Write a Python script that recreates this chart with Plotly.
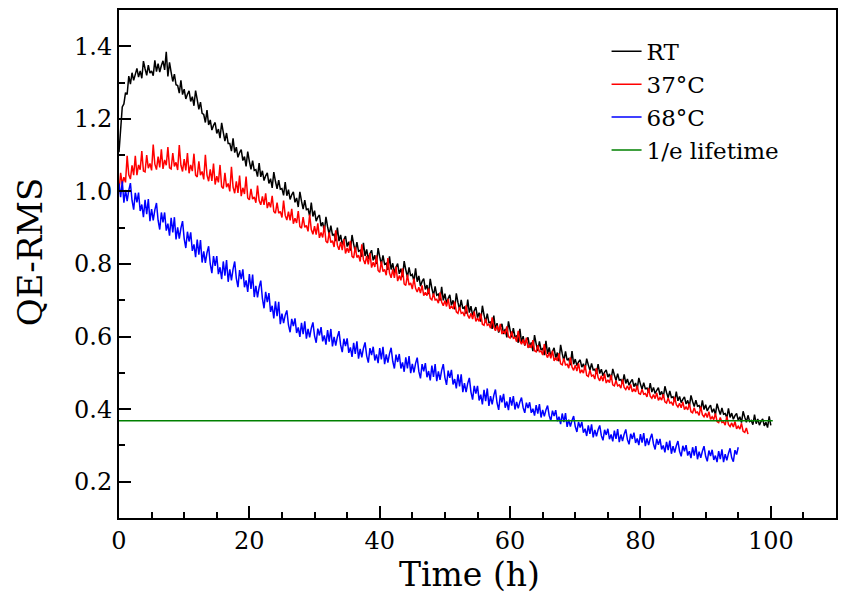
import plotly.graph_objects as go

t_step = 0.25  # sampling interval of the recorded data (h)

rt_values = [
1.108,1.160,1.233,1.241, 1.272,1.267,1.318,1.296, 1.327,1.306,1.324,1.339, 1.315,1.332,1.312,1.359,
1.338,1.320,1.348,1.326, 1.332,1.319,1.361,1.330, 1.352,1.329,1.347,1.360, 1.335,1.385,1.317,1.356,
1.328,1.303,1.323,1.294, 1.292,1.271,1.306,1.267, 1.282,1.255,1.268,1.277, 1.248,1.261,1.236,1.278,
1.253,1.226,1.246,1.215, 1.212,1.190,1.224,1.183, 1.197,1.169,1.182,1.190, 1.160,1.172,1.147,1.189,
1.163,1.139,1.161,1.132, 1.132,1.111,1.146,1.107, 1.122,1.094,1.107,1.115, 1.085,1.096,1.069,1.110,
1.083,1.061,1.085,1.058, 1.060,1.041,1.078,1.040, 1.057,1.030,1.043,1.051, 1.022,1.035,1.010,1.053,
1.028,1.007,1.031,1.006, 1.008,0.989,1.026,0.988, 1.005,0.978,0.991,0.999, 0.970,0.982,0.957,0.999,
0.973,0.951,0.976,0.950, 0.952,0.932,0.969,0.931, 0.947,0.918,0.929,0.935, 0.904,0.915,0.889,0.930,
0.903,0.881,0.906,0.880, 0.882,0.863,0.900,0.863, 0.880,0.854,0.867,0.877, 0.848,0.861,0.837,0.880,
0.855,0.834,0.860,0.835, 0.838,0.820,0.858,0.822, 0.840,0.814,0.828,0.838, 0.810,0.824,0.800,0.844,
0.820,0.799,0.824,0.799, 0.802,0.784,0.821,0.785, 0.802,0.776,0.791,0.801, 0.773,0.787,0.764,0.808,
0.784,0.764,0.791,0.767, 0.771,0.752,0.788,0.751, 0.767,0.739,0.752,0.760, 0.730,0.742,0.717,0.759,
0.733,0.713,0.738,0.714, 0.717,0.699,0.737,0.700, 0.718,0.692,0.705,0.715, 0.686,0.700,0.675,0.719,
0.694,0.674,0.701,0.677, 0.681,0.663,0.702,0.666, 0.684,0.658,0.671,0.681, 0.652,0.666,0.641,0.685,
0.660,0.639,0.663,0.638, 0.640,0.621,0.658,0.620, 0.637,0.611,0.625,0.635, 0.607,0.621,0.598,0.642,
0.618,0.598,0.623,0.599, 0.602,0.583,0.621,0.584, 0.601,0.575,0.589,0.598, 0.570,0.584,0.560,0.604,
0.580,0.560,0.587,0.563, 0.567,0.549,0.588,0.552, 0.570,0.544,0.559,0.569, 0.541,0.556,0.532,0.577,
0.553,0.533,0.559,0.535, 0.539,0.521,0.560,0.524, 0.538,0.520,0.530,0.536, 0.516,0.525,0.509,0.539,
0.522,0.507,0.526,0.508, 0.510,0.497,0.524,0.498, 0.510,0.492,0.502,0.508, 0.488,0.497,0.481,0.511,
0.494,0.479,0.498,0.480, 0.482,0.470,0.496,0.471, 0.483,0.466,0.475,0.482, 0.462,0.472,0.455,0.486,
0.469,0.455,0.473,0.456, 0.458,0.446,0.472,0.447, 0.460,0.443,0.452,0.459, 0.439,0.449,0.432,0.463,
0.446,0.431,0.450,0.432, 0.434,0.422,0.448,0.423, 0.435,0.418,0.427,0.434, 0.414,0.424,0.407,0.438,
0.421,0.407,0.425,0.408, 0.410,0.398,0.424,0.399, 0.412,0.395,0.404,0.411, 0.391,0.401,0.385,0.415,
0.399,0.385,0.403,0.386, 0.388,0.376,0.402,0.377, 0.389,0.372,0.382,0.388, 0.369,0.379,0.363,0.394,
0.378,0.364,0.383,0.366, 0.369,0.357,0.385,0.360, 0.373,0.356,0.366,0.373, 0.354,0.364,0.349,0.380,
0.355]

c37_values = [
1.000,1.051,1.020,1.039, 1.025,1.098,1.046,1.034, 1.072,1.045,1.098,1.045, 1.073,1.060,1.111,1.056,
1.054,1.100,1.064,1.077, 1.058,1.129,1.075,1.060, 1.096,1.066,1.116,1.062, 1.087,1.072,1.122,1.065,
1.062,1.106,1.069,1.080, 1.059,1.128,1.072,1.055, 1.089,1.058,1.106,1.050, 1.073,1.056,1.104,1.045,
1.040,1.083,1.045,1.055, 1.033,1.101,1.045,1.028, 1.061,1.029,1.077,1.019, 1.042,1.025,1.073,1.013,
1.008,1.051,1.012,1.022, 1.000,1.068,1.012,0.995, 1.028,0.996,1.044,0.987, 1.010,0.993,1.041,0.982,
0.977,1.007,0.979,0.985, 0.969,1.016,0.975,0.963, 0.986,0.963,0.995,0.954, 0.970,0.956,0.988,0.945,
0.940,0.969,0.940,0.945, 0.928,0.975,0.934,0.921, 0.944,0.920,0.952,0.911, 0.926,0.913,0.946,0.903,
0.899,0.929,0.901,0.906, 0.890,0.936,0.895,0.882, 0.904,0.881,0.912,0.872, 0.887,0.873,0.906,0.863,
0.858,0.887,0.859,0.864, 0.847,0.893,0.852,0.839, 0.861,0.838,0.869,0.829, 0.844,0.831,0.864,0.821,
0.817,0.847,0.818,0.824, 0.807,0.854,0.812,0.800, 0.822,0.799,0.830,0.790, 0.805,0.792,0.824,0.782,
0.777,0.807,0.779,0.785, 0.769,0.816,0.775,0.762, 0.785,0.762,0.793,0.753, 0.768,0.755,0.788,0.745,
0.741,0.771,0.742,0.748, 0.731,0.760,0.733,0.723, 0.736,0.720,0.741,0.713, 0.722,0.713,0.733,0.705,
0.701,0.719,0.701,0.703, 0.692,0.722,0.695,0.685, 0.699,0.683,0.704,0.676, 0.685,0.676,0.696,0.668,
0.664,0.682,0.664,0.667, 0.656,0.686,0.659,0.650, 0.664,0.648,0.669,0.642, 0.651,0.642,0.663,0.634,
0.631,0.649,0.631,0.634, 0.623,0.653,0.626,0.616, 0.630,0.614,0.635,0.607, 0.616,0.607,0.628,0.599,
0.596,0.614,0.595,0.598, 0.586,0.616,0.588,0.579, 0.592,0.576,0.597,0.569, 0.578,0.569,0.590,0.561,
0.558,0.576,0.558,0.560, 0.549,0.579,0.552,0.542, 0.556,0.540,0.561,0.533, 0.542,0.533,0.554,0.525,
0.522,0.540,0.522,0.524, 0.513,0.543,0.516,0.507, 0.521,0.505,0.526,0.499, 0.508,0.499,0.521,0.493,
0.490,0.508,0.491,0.494, 0.483,0.513,0.487,0.478, 0.492,0.477,0.498,0.472, 0.481,0.473,0.494,0.467,
0.464,0.479,0.464,0.467, 0.458,0.482,0.460,0.454, 0.464,0.453,0.468,0.448, 0.455,0.448,0.465,0.443,
0.441,0.455,0.441,0.443, 0.434,0.458,0.436,0.430, 0.440,0.429,0.445,0.424, 0.432,0.425,0.441,0.420,
0.417,0.431,0.417,0.419, 0.410,0.434,0.412,0.406, 0.416,0.404,0.420,0.399, 0.406,0.398,0.415,0.393,
0.390,0.404,0.390,0.392, 0.383,0.407,0.385,0.379, 0.389,0.377,0.393,0.372, 0.379,0.371,0.388,0.366,
0.363,0.377,0.363,0.365, 0.356,0.380,0.358,0.352, 0.362,0.351,0.366,0.346, 0.353,0.345,0.361,0.339,
0.336,0.348,0.331]

c68_values = [
1.022,0.984,1.028,0.969, 1.004,0.973,1.003,1.023, 0.975,0.950,0.996,0.970, 0.997,0.946,0.964,0.929,
0.977,0.937,0.979,0.918, 0.951,0.920,0.949,0.968, 0.920,0.895,0.942,0.915, 0.942,0.892,0.911,0.878,
0.927,0.887,0.929,0.868, 0.901,0.870,0.899,0.918, 0.870,0.844,0.889,0.862, 0.887,0.836,0.854,0.819,
0.867,0.826,0.866,0.804, 0.835,0.803,0.831,0.849, 0.800,0.775,0.822,0.795, 0.822,0.772,0.791,0.758,
0.807,0.768,0.811,0.751, 0.785,0.755,0.786,0.807, 0.760,0.736,0.783,0.758, 0.785,0.736,0.755,0.723,
0.772,0.731,0.771,0.709, 0.740,0.708,0.736,0.754, 0.705,0.678,0.723,0.695, 0.720,0.668,0.685,0.650,
0.697,0.656,0.696,0.634, 0.663,0.637,0.659,0.672, 0.632,0.612,0.649,0.629, 0.650,0.610,0.625,0.599,
0.638,0.607,0.642,0.594, 0.621,0.598,0.623,0.639, 0.602,0.583,0.622,0.603, 0.626,0.587,0.603,0.578,
0.618,0.586,0.621,0.573, 0.599,0.575,0.599,0.615, 0.577,0.557,0.594,0.574, 0.595,0.555,0.570,0.544,
0.583,0.552,0.587,0.539, 0.566,0.543,0.568,0.584, 0.547,0.528,0.568,0.549, 0.572,0.534,0.551,0.527,
0.568,0.537,0.572,0.524, 0.551,0.528,0.553,0.569, 0.532,0.512,0.550,0.530, 0.552,0.512,0.529,0.503,
0.543,0.512,0.546,0.499, 0.525,0.501,0.526,0.542, 0.504,0.485,0.524,0.504, 0.527,0.488,0.505,0.479,
0.520,0.489,0.524,0.477, 0.504,0.481,0.507,0.524, 0.487,0.467,0.506,0.486, 0.508,0.468,0.483,0.457,
0.496,0.463,0.496,0.447, 0.472,0.447,0.471,0.486, 0.447,0.426,0.464,0.443, 0.464,0.424,0.440,0.413,
0.453,0.422,0.457,0.409, 0.436,0.413,0.438,0.454, 0.417,0.398,0.438,0.419, 0.442,0.404,0.421,0.397,
0.433,0.410,0.436,0.399, 0.420,0.402,0.420,0.432, 0.404,0.390,0.418,0.403, 0.419,0.390,0.401,0.382,
0.411,0.388,0.414,0.377, 0.398,0.380,0.398,0.410, 0.382,0.368,0.396,0.381, 0.397,0.367,0.379,0.359,
0.388,0.364,0.389,0.351, 0.371,0.352,0.369,0.381, 0.352,0.337,0.365,0.349, 0.365,0.335,0.346,0.326,
0.355,0.332,0.358,0.322, 0.343,0.325,0.343,0.355, 0.327,0.314,0.343,0.329, 0.346,0.317,0.330,0.311,
0.341,0.318,0.345,0.309, 0.330,0.312,0.331,0.344, 0.316,0.303,0.332,0.318, 0.335,0.307,0.319,0.301,
0.331,0.308,0.334,0.298, 0.319,0.301,0.319,0.332, 0.304,0.289,0.318,0.302, 0.318,0.289,0.300,0.281,
0.310,0.287,0.313,0.277, 0.298,0.280,0.299,0.312, 0.284,0.270,0.299,0.284, 0.301,0.272,0.284,0.265,
0.295,0.272,0.298,0.262, 0.283,0.266,0.284,0.298, 0.270,0.256,0.286,0.271, 0.288,0.260,0.272,0.254,
0.284,0.262,0.289,0.254, 0.276,0.259,0.278,0.292, 0.266,0.255,0.287,0.275,
0.295]

lifetime_t = [0, 100.3]
lifetime_v = [0.368, 0.368]

series_names = ["RT", "37\u00b0C", "68\u00b0C", "1/e lifetime"]
series_colors = ["#000000", "#ff0000", "#0000ff", "#008000"]

x_title = "Time (h)"
y_title = "QE-RMS"


def times(vals):
    return [i * t_step for i in range(len(vals))]


FONT = "DejaVu Serif"

fig = go.Figure()
for vals, name, col in zip([rt_values, c37_values, c68_values],
                           series_names[:3], series_colors[:3]):
    fig.add_trace(go.Scatter(x=times(vals), y=vals, mode="lines", name=name,
                             line=dict(color=col, width=1.5)))
fig.add_trace(go.Scatter(x=lifetime_t, y=lifetime_v, mode="lines",
                         name=series_names[3],
                         line=dict(color=series_colors[3], width=1.6)))

axis_common = dict(showline=True, linecolor="black", linewidth=2, mirror=True,
                   ticks="inside", ticklen=12, tickwidth=2, tickcolor="black",
                   showgrid=False, zeroline=False,
                   tickfont=dict(family=FONT, size=24, color="black"))

fig.update_xaxes(range=[0, 110], dtick=20, tick0=0,
                 minor=dict(dtick=5, ticks="inside", ticklen=6, tickwidth=2,
                            tickcolor="black"),
                 **axis_common)
fig.update_yaxes(range=[0.1, 1.5], dtick=0.2, tick0=0.2, tickformat=".1f",
                 minor=dict(dtick=0.1, ticks="inside", ticklen=6, tickwidth=2,
                            tickcolor="black"),
                 **axis_common)

fig.add_annotation(text=x_title, xref="paper", yref="paper", x=0.4889, y=-0.112,
                   xanchor="center", yanchor="middle", showarrow=False,
                   font=dict(family=FONT, size=33, color="black"))
fig.add_annotation(text=y_title, xref="paper", yref="paper", x=-0.124, y=0.5235,
                   xanchor="center", yanchor="middle", showarrow=False, textangle=-90,
                   font=dict(family=FONT, size=34, color="black"))

fig.update_layout(
    width=846, height=596,
    margin=dict(l=119, r=8, t=8, b=78),
    paper_bgcolor="white", plot_bgcolor="white",
    showlegend=True,
    legend=dict(x=0.68, y=0.961, xanchor="left", yanchor="top",
                bgcolor="rgba(0,0,0,0)", borderwidth=0,
                font=dict(family=FONT, size=23, color="black"),
                tracegroupgap=0),
)

fig.write_html("out.html")
